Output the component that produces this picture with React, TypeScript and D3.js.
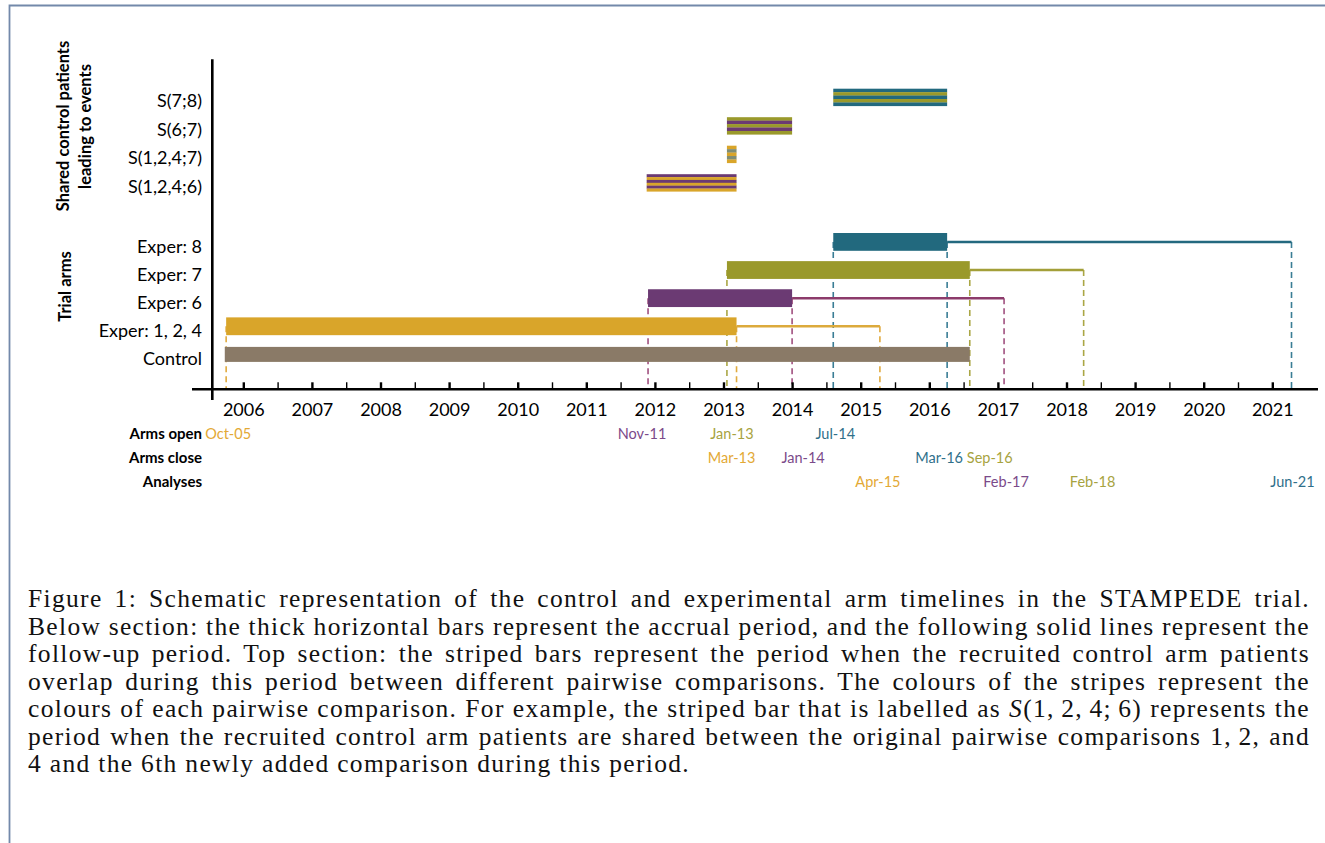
import React, { useEffect, useRef } from "react";
import * as d3 from "d3";

const ORANGE = "#d9a52a";
const GREY = "#8a7a67";
const PURPLE = "#6b3a73";
const OLIVE = "#9a992b";
const TEAL = "#22697e";
const STRIPE_MIX = "#7f8d74";

// trial arms, top to bottom (decimal years)
const armNames = ["Exper: 8", "Exper: 7", "Exper: 6", "Exper: 1, 2, 4", "Control"];
const armOpen = [2014.6, 2013.05, 2011.9, 2005.75, 2005.73];
const armClose = [2016.26, 2016.59, 2014.0, 2013.19, 2016.59];
const armAnalysis: (number | null)[] = [2021.28, 2018.25, 2017.09, 2015.28, null];
const armOpenLabels = ["Jul-14", "Jan-13", "Nov-11", "Oct-05", ""];
const armCloseLabels = ["Mar-16", "Sep-16", "Jan-14", "Mar-13", ""];
const armAnalysisLabels = ["Jun-21", "Feb-18", "Feb-17", "Apr-15", ""];

// shared control periods, top to bottom
const sharedNames = ["S(7;8)", "S(6;7)", "S(1,2,4;7)", "S(1,2,4;6)"];
const sharedStart = [2014.6, 2013.05, 2013.05, 2011.88];
const sharedEnd = [2016.26, 2014.0, 2013.19, 2013.19];

const years = [2006, 2007, 2008, 2009, 2010, 2011, 2012, 2013, 2014, 2015, 2016, 2017, 2018, 2019, 2020, 2021];
const halfYears = [2006.5, 2007.5, 2008.5, 2009.5, 2010.5, 2011.5, 2012.5, 2013.5, 2014.5, 2015.5, 2016.5, 2017.5, 2018.5, 2019.5, 2020.5];

const captionLines = [
  "Figure 1: Schematic representation of the control and experimental arm timelines in the STAMPEDE trial.",
  "Below section: the thick horizontal bars represent the accrual period, and the following solid lines represent the",
  "follow-up period. Top section: the striped bars represent the period when the recruited control arm patients",
  "overlap during this period between different pairwise comparisons. The colours of the stripes represent the",
  "colours of each pairwise comparison. For example, the striped bar that is labelled as @ represents the",
  "period when the recruited control arm patients are shared between the original pairwise comparisons 1,\u20092, and",
  "4 and the 6th newly added comparison during this period.",
];

// styling
const armColors = [TEAL, OLIVE, PURPLE, ORANGE, GREY];
const lineColors = ["#23697f", "#a39f38", "#8c3b6b", "#dcaa3c", GREY];
const dashColors = ["#3a7d95", "#aaa645", "#a0507f", "#e0aa3e", GREY];
const labelColors = ["#2f6f8a", "#a7a33f", "#7b4a8a", "#e3a935", GREY];
const stripeColors = [
  [TEAL, OLIVE, TEAL, OLIVE, TEAL],
  [OLIVE, PURPLE, OLIVE, PURPLE, OLIVE],
  [ORANGE, STRIPE_MIX, ORANGE, STRIPE_MIX, ORANGE],
  [PURPLE, ORANGE, PURPLE, ORANGE, PURPLE, ORANGE],
];
const labelNudge: Record<string, number> = {
  "Oct-05": 2, "Nov-11": -6, "Jan-13": 5, "Jul-14": 2, "Mar-13": -5, "Jan-14": 11,
  "Mar-16": -8, "Sep-16": 20, "Apr-15": -2, "Feb-17": 2, "Feb-18": 9, "Jun-21": 1,
};

const App: React.FC = () => {
  const svgRef = useRef<SVGSVGElement>(null);
  const width = 1325;
  const height = 843;
  const axisY = 389.3;
  const axisX = 212.3;
  const font = "Lato, 'Open Sans', sans-serif";

  useEffect(() => {
    const svg = d3.select(svgRef.current);
    svg.selectAll("*").remove();

    const x = d3.scaleLinear().domain([2006, 2021]).range([243.3, 1272.3]);
    const yArm = d3.scalePoint<string>().domain(armNames).range([241.9, 354.4]);
    const yShared = d3.scalePoint<string>().domain(sharedNames).range([97.3, 182.8]);

    // page frame
    svg.append("path")
      .attr("d", `M9.5,${height} V5.5 H${width}`)
      .attr("fill", "none")
      .attr("stroke", "#7389aa")
      .attr("stroke-width", 1.8);

    const chart = svg.append("g").attr("font-family", font);

    // dashed guides (behind everything)
    const guides = chart.append("g").attr("stroke-dasharray", "6,4").attr("stroke-width", 1.6);
    armNames.forEach((name, i) => {
      if (armAnalysis[i] === null) return;
      const cy = yArm(name)!;
      [armOpen[i], armClose[i], armAnalysis[i] as number].forEach((d) => {
        guides.append("line")
          .attr("x1", x(d)).attr("x2", x(d))
          .attr("y1", cy).attr("y2", axisY)
          .attr("stroke", dashColors[i]);
      });
    });

    // follow-up lines
    armNames.forEach((name, i) => {
      const a = armAnalysis[i];
      if (a === null) return;
      chart.append("line")
        .attr("x1", x(armClose[i])).attr("x2", x(a))
        .attr("y1", yArm(name)!).attr("y2", yArm(name)!)
        .attr("stroke", lineColors[i])
        .attr("stroke-width", 2.5);
    });

    // accrual bars
    chart.append("g").selectAll("rect")
      .data(armNames)
      .join("rect")
      .attr("x", (d, i) => x(armOpen[i]))
      .attr("width", (d, i) => x(armClose[i]) - x(armOpen[i]))
      .attr("y", (d, i) => yArm(d)! - (i === 4 ? 7.5 : 8.9))
      .attr("height", (d, i) => (i === 4 ? 15 : 17.8))
      .attr("fill", (d, i) => armColors[i]);

    // striped shared bars
    sharedNames.forEach((name, i) => {
      const h = 17.2;
      const top = yShared(name)! - h / 2;
      const band = d3.scaleBand<number>()
        .domain(d3.range(stripeColors[i].length))
        .range([top, top + h]);
      chart.append("g").selectAll("rect")
        .data(stripeColors[i])
        .join("rect")
        .attr("x", x(sharedStart[i]))
        .attr("width", x(sharedEnd[i]) - x(sharedStart[i]))
        .attr("y", (d, k) => band(k)!)
        .attr("height", band.bandwidth() + 0.2)
        .attr("fill", (d) => d);
    });

    // axes
    chart.append("line")
      .attr("x1", 192).attr("x2", 1318)
      .attr("y1", axisY).attr("y2", axisY)
      .attr("stroke", "#000").attr("stroke-width", 2.6);
    chart.append("line")
      .attr("x1", axisX).attr("x2", axisX)
      .attr("y1", 59.3).attr("y2", 400)
      .attr("stroke", "#000").attr("stroke-width", 2.6);

    const minorAxis = chart.append("g")
      .attr("transform", `translate(0,${axisY})`)
      .call(d3.axisBottom(x).tickValues(halfYears).tickSize(-7).tickFormat(() => ""));
    minorAxis.select(".domain").remove();
    minorAxis.selectAll(".tick line").attr("stroke-width", 1.4);

    const majorAxis = chart.append("g")
      .attr("transform", `translate(0,${axisY})`)
      .call(d3.axisBottom(x).tickValues(years).tickSize(-7).tickPadding(0).tickFormat(d3.format("d")));
    majorAxis.select(".domain").remove();
    majorAxis.selectAll(".tick line").attr("stroke-width", 2.4);
    majorAxis.selectAll(".tick text")
      .attr("font-family", font)
      .attr("font-size", 18)
      .attr("fill", "#000")
      .attr("dy", null)
      .attr("y", 27);

    // row labels
    const labelX = 202;
    chart.append("g").selectAll("text")
      .data(sharedNames)
      .join("text")
      .attr("x", labelX)
      .attr("y", (d) => yShared(d)! + 9.8)
      .attr("text-anchor", "end")
      .attr("font-size", 18)
      .text((d) => d);
    chart.append("g").selectAll("text")
      .data(armNames)
      .join("text")
      .attr("x", labelX)
      .attr("y", (d) => yArm(d)! + 10.8)
      .attr("text-anchor", "end")
      .attr("font-size", 18)
      .text((d) => d);

    // rotated section titles
    const rot = (cx: number, cy: number, txt: string) =>
      chart.append("text")
        .attr("transform", `translate(${cx},${cy}) rotate(-90)`)
        .attr("text-anchor", "middle")
        .attr("font-weight", "bold")
        .attr("font-size", 16.5)
        .text(txt);
    rot(69, 126, "Shared control patients");
    rot(91, 126.5, "leading to events");
    rot(71, 286.5, "Trial arms");

    // date rows under the axis
    const rows: { title: string; y: number; labels: string[]; dates: (number | null)[] }[] = [
      { title: "Arms open", y: 439, labels: armOpenLabels, dates: armOpen },
      { title: "Arms close", y: 463, labels: armCloseLabels, dates: armClose },
      { title: "Analyses", y: 487, labels: armAnalysisLabels, dates: armAnalysis },
    ];
    rows.forEach((row) => {
      chart.append("text")
        .attr("x", labelX)
        .attr("y", row.y)
        .attr("text-anchor", "end")
        .attr("font-weight", "bold")
        .attr("font-size", 15)
        .text(row.title);
      row.labels.forEach((lab, i) => {
        const d = row.dates[i];
        if (!lab || d === null) return;
        chart.append("text")
          .attr("x", x(d) + (labelNudge[lab] || 0))
          .attr("y", row.y)
          .attr("text-anchor", "middle")
          .attr("font-size", 14.5)
          .attr("fill", labelColors[i])
          .text(lab);
      });
    });

    // caption, justified between left and right; the last line ends near lastEnd
    const cap = svg.append("g")
      .attr("font-family", "'Liberation Serif', 'DejaVu Serif', serif")
      .attr("font-size", 25.5)
      .attr("fill", "#111");
    const left = 28;
    const right = 1310;
    const lastEnd = 690;
    const texts = captionLines.map((line, i) => {
      const t = cap.append("text").attr("x", left).attr("y", 607 + i * 27.5);
      if (line.includes("@")) {
        const [a, b] = line.split("@");
        t.append("tspan").text(a);
        t.append("tspan").attr("font-style", "italic").text("S");
        t.append("tspan").text("(1,\u20092,\u20094;\u20096)" + b);
      } else {
        t.text(line);
      }
      return t;
    });
    const lastLine = captionLines[captionLines.length - 1];
    const lastNode = texts[texts.length - 1].node() as SVGTextElement;
    const letter = (lastEnd - left - lastNode.getComputedTextLength()) / lastLine.length;
    cap.attr("letter-spacing", letter);
    texts.forEach((t, i) => {
      if (i === texts.length - 1) return;
      const node = t.node() as SVGTextElement;
      const natural = node.getComputedTextLength();
      const spaces = (captionLines[i].match(/ /g) || []).length;
      if (spaces > 0) t.attr("word-spacing", (right - left - natural) / spaces);
    });
  }, []);

  return (
    <svg
      ref={svgRef}
      width={width}
      height={height}
      viewBox={`0 0 ${width} ${height}`}
      style={{ position: "absolute", left: 0, top: 0, background: "#fff" }}
    />
  );
};

export default App;
